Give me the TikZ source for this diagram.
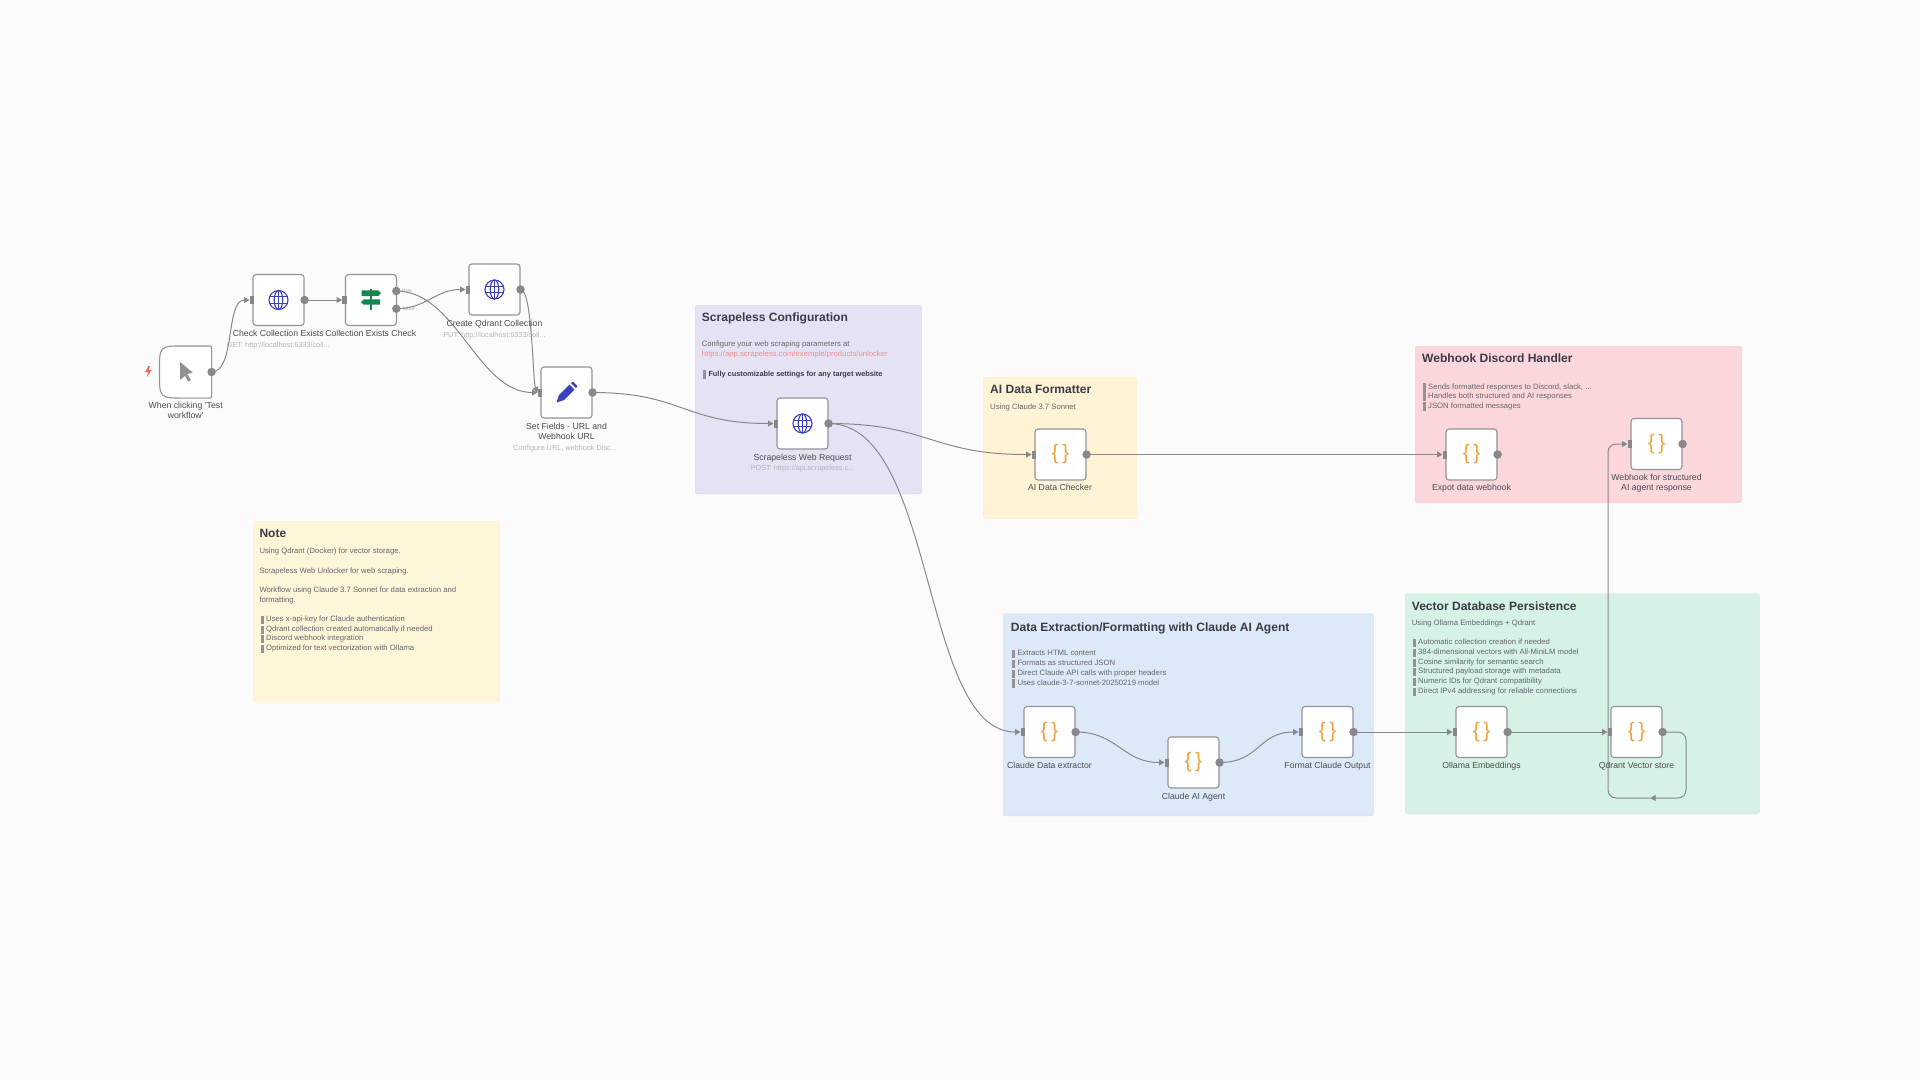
\documentclass[tikz,border=0pt]{standalone}
\usepackage{fontspec}
\setmainfont{Liberation Sans}
\usetikzlibrary{arrows.meta}

\definecolor{pagebg}{HTML}{FBFBFB}
\definecolor{wirecol}{HTML}{88888C}
\definecolor{edgecol}{HTML}{939397}
\definecolor{iconblue}{HTML}{3A3FC0}
\definecolor{signgreen}{HTML}{15854F}
\definecolor{bracecol}{HTML}{F2A33A}
\definecolor{boltcol}{HTML}{EE6A5C}
\definecolor{labelcol}{HTML}{4C4C52}
\definecolor{subcol}{HTML}{B5B5B8}
\definecolor{titlecol}{HTML}{3C3C46}
\definecolor{bodycol}{HTML}{66666C}
\definecolor{linkcol}{HTML}{EC8F8F}

\tikzset{
  flownode/.style={draw=edgecol,fill=white,line width=1.1pt,rounded corners=3pt,minimum width=51pt,minimum height=51pt,inner sep=0pt},
  groupbox/.style={rounded corners=2pt,anchor=north west,inner sep=0pt,line width=.5pt},
  outport/.style={circle,fill=wirecol,minimum size=8.5pt,inner sep=0pt},
  inport/.style={fill=wirecol,minimum width=4.5pt,minimum height=8pt,inner sep=0pt},
  wire/.style={draw=wirecol,line width=1pt,-{Triangle[length=5.5pt,width=6pt]}},
  nodelabel/.style={inner sep=0pt,text=labelcol,font=\fontsize{8.7}{10}\selectfont,text height=6.8pt,text depth=1.9pt},
  sublabel/.style={inner sep=0pt,text=subcol,font=\fontsize{7.3}{8}\selectfont,text height=5.4pt,text depth=1.5pt},
  grouptitle/.style={inner sep=0pt,anchor=west,text=titlecol,font=\bfseries\fontsize{12.05}{14}\selectfont,text height=9pt,text depth=2.6pt},
  bodytext/.style={inner sep=0pt,anchor=west,text=bodycol,font=\fontsize{7.7}{8}\selectfont,text height=5.4pt,text depth=1.5pt},
  bracetext/.style={inner sep=0pt,text=bracecol,font=\fontsize{21}{22}\selectfont},
  quotebar/.style={fill=edgecol}
}

%Globe icon
\newcommand{\globeicon}[1]{
  \begin{scope}[shift={(#1)},draw=iconblue,line width=1.1pt]
    \draw (0,0) circle (9.5pt);
    \draw (0,0) ellipse (4.3pt and 9.5pt);
    \draw (0,-9.5) -- (0,9.5) (-8.9,-3.3) -- (8.9,-3.3) (-8.9,3.3) -- (8.9,3.3);
  \end{scope}
}

\begin{document}
\begin{tikzpicture}[x=1pt,y=-1pt]

\fill[pagebg] (0,0) rectangle (1920,1080);
\useasboundingbox (0,0) rectangle (1920,1080);

%Group boxes
\node[groupbox,fill={rgb,255:red,255;green,245;blue,217},draw={rgb,255:red,252;green,240;blue,208},minimum width=246pt,minimum height=180.5pt] (noteGroup) at (253,521) {};
\node[groupbox,fill={rgb,255:red,229;green,227;blue,243},draw={rgb,255:red,218;green,216;blue,236},minimum width=226pt,minimum height=188.5pt] (scrapelessGroup) at (695,305) {};
\node[groupbox,fill={rgb,255:red,255;green,243;blue,214},draw={rgb,255:red,252;green,238;blue,205},minimum width=153.5pt,minimum height=141pt] (formatterGroup) at (983,377) {};
\node[groupbox,fill={rgb,255:red,251;green,215;blue,219},draw={rgb,255:red,246;green,207;blue,212},minimum width=326.5pt,minimum height=156.5pt] (webhookGroup) at (1415,346) {};
\node[groupbox,fill={rgb,255:red,220;green,233;blue,247},draw={rgb,255:red,210;green,225;blue,242},minimum width=370pt,minimum height=202pt] (extractGroup) at (1003,613.5) {};
\node[groupbox,fill={rgb,255:red,213;green,242;blue,228},draw={rgb,255:red,203;green,236;blue,220},minimum width=354pt,minimum height=220pt] (vectorGroup) at (1405,593.5) {};

%Group texts
\node[grouptitle] (noteTitle) at (259.3,534.6) {Note};
\node[bodytext] (noteA) at (259.3,551.8) {Using Qdrant (Docker) for vector storage.};
\node[bodytext] (noteB) at (259.3,571.2) {Scrapeless Web Unlocker for web scraping.};
\node[bodytext] (noteC) at (259.3,590.8) {Workflow using Claude 3.7 Sonnet for data extraction and};
\node[bodytext] (noteD) at (259.3,600.2) {formatting.};
\foreach \y/\t [count=\i] in {619.8/{Uses x-api-key for Claude authentication},629.8/{Qdrant collection created automatically if needed},638.8/{Discord webhook integration},648.8/{Optimized for text vectorization with Ollama}}{
  \fill[quotebar] (260.7,\y-4.3) rectangle (263.7,\y+4.3);
  \node[bodytext] (noteList\i) at (266,\y) {\t};
}

\node[grouptitle] (scrapelessTitle) at (701.7,318.6) {Scrapeless Configuration};
\node[bodytext] (scrapelessA) at (701.7,344.8) {Configure your web scraping parameters at};
\node[bodytext,text=linkcol] (scrapelessB) at (701.7,354.8) {https://app.scrapeless.com/exemple/products/unlocker};
\fill[quotebar] (703,370.3) rectangle (706,378.9);
\node[bodytext,text=titlecol,font=\bfseries\fontsize{7.35}{8}\selectfont] (scrapelessC) at (708.3,374.8) {Fully customizable settings for any target website};

\node[grouptitle] (formatterTitle) at (990,390.6) {AI Data Formatter};
\node[bodytext] (formatterA) at (990,407.8) {Using Claude 3.7 Sonnet};

\node[grouptitle] (webhookTitle) at (1422,359.6) {Webhook Discord Handler};
\foreach \y/\t [count=\i] in {387.2/{Sends formatted responses to Discord, slack, ...},396.2/{Handles both structured and AI responses},406.2/{JSON formatted messages}}{
  \fill[quotebar] (1423,\y-4.3) rectangle (1426,\y+4.3);
  \node[bodytext] (webhookList\i) at (1428,\y) {\t};
}

\node[grouptitle] (extractTitle) at (1010.7,628) {Data Extraction/Formatting with Claude AI Agent};
\foreach \y/\t [count=\i] in {653.8/{Extracts HTML content},663.8/{Formats as structured JSON},673.8/{Direct Claude API calls with proper headers},683.2/{Uses claude-3-7-sonnet-20250219 model}}{
  \fill[quotebar] (1011.7,\y-4.3) rectangle (1014.7,\y+4.3);
  \node[bodytext] (extractList\i) at (1017.3,\y) {\t};
}

\node[grouptitle] (vectorTitle) at (1411.7,607) {Vector Database Persistence};
\node[bodytext] (vectorA) at (1411.7,623.8) {Using Ollama Embeddings + Qdrant};
\foreach \y/\t [count=\i] in {642.8/{Automatic collection creation if needed},652.8/{384-dimensional vectors with All-MiniLM model},662.8/{Cosine similarity for semantic search},671.8/{Structured payload storage with metadata},681.8/{Numeric IDs for Qdrant compatibility},691.8/{Direct IPv4 addressing for reliable connections}}{
  \fill[quotebar] (1412.7,\y-4.3) rectangle (1415.7,\y+4.3);
  \node[bodytext] (vectorList\i) at (1418,\y) {\t};
}

%Workflow nodes
\node[flownode,draw=none,fill=none] (trigger) at (185.5,372) {};
\node[flownode] (check) at (278.5,300) {};
\node[flownode] (exists) at (371,300) {};
\node[flownode] (create) at (494.5,289.5) {};
\node[flownode] (fields) at (566.5,392.5) {};
\node[flownode] (scrapeless) at (802.5,423.5) {};
\node[flownode] (checker) at (1060.5,454.5) {};
\node[flownode] (expot) at (1471.5,454.5) {};
\node[flownode] (structured) at (1656.5,444) {};
\node[flownode] (extractor) at (1049.5,732) {};
\node[flownode] (agent) at (1193.5,762.5) {};
\node[flownode] (output) at (1327.5,732) {};
\node[flownode] (ollama) at (1481.5,732) {};
\node[flownode] (qdrant) at (1636.5,732) {};

%Trigger outline
\filldraw[draw=edgecol,fill=white,line width=1.1pt] ([xshift=-3pt]trigger.south east) .. controls (trigger.south east) .. ([yshift=3pt]trigger.south east) -- ([yshift=-3pt]trigger.north east) .. controls (trigger.north east) .. ([xshift=-3pt]trigger.north east) -- ([xshift=25pt]trigger.north west) .. controls (trigger.north west) .. ([yshift=-25pt]trigger.north west) -- ([yshift=25pt]trigger.south west) .. controls (trigger.south west) .. ([xshift=25pt]trigger.south west) -- cycle;

%Ports
\foreach \n in {trigger,check,create,fields,scrapeless,checker,expot,structured,extractor,agent,output,ollama,qdrant}
  \node[outport] (\n-out) at (\n.east) {};
\foreach \n in {check,exists,create,fields,scrapeless,checker,expot,structured,extractor,agent,output,ollama,qdrant}
  \node[inport] (\n-in) at ([xshift=-.5pt]\n.west) {};
\node[outport] (exists-true) at (396.3,291) {};
\node[outport] (exists-false) at (396.3,308.7) {};
\node[inner sep=0pt,text=subcol,font=\fontsize{5.6}{6}\selectfont] (trueLabel) at (407,290.3) {true};
\node[inner sep=0pt,text=subcol,font=\fontsize{5.6}{6}\selectfont] (falseLabel) at (408.7,308.7) {false};

%Connectors
\draw[wire] (trigger-out.center) .. controls +(24,0) and +(-24,0) .. (check-in.west);
\draw[wire] (check-out.center) -- (exists-in.west);
\draw[wire] (exists-true.center) .. controls +(60,0) and +(-60,0) .. (fields-in.west);
\draw[wire] (exists-false.center) .. controls +(30,0) and +(-30,0) .. (create-in.west);
\draw[wire] (create-out.center) .. controls +(12,0) and +(-5,-12) .. (fields-in.west);
\draw[wire] (fields-out.center) .. controls +(90,0) and +(-90,0) .. (scrapeless-in.west);
\draw[wire] (scrapeless-out.center) .. controls +(100,0) and +(-100,0) .. (checker-in.west);
\draw[wire] (scrapeless-out.center) .. controls +(108,0) and +(-100,0) .. (extractor-in.west);
\draw[wire] (checker-out.center) -- (expot-in.west);
\draw[wire] (extractor-out.center) .. controls +(42,0) and +(-42,0) .. (agent-in.west);
\draw[wire] (agent-out.center) .. controls +(40,0) and +(-40,0) .. (output-in.west);
\draw[wire] (output-out.center) -- (ollama-in.west);
\draw[wire] (ollama-out.center) -- (qdrant-in.west);
\coordinate (loopTurn) at (1650,798);
\draw[wire,rounded corners=8pt] (qdrant-out.center) -- (1686,732) -- (1686,798) -- (loopTurn);
\draw[wire,rounded corners=8pt] (loopTurn) -- (1608,798) -- (1608,444) -- (structured-in.west);

%Icons
\foreach \n in {check,create,scrapeless}
  \globeicon{\n};
\foreach \n in {checker,expot,structured,extractor,agent,output,ollama,qdrant}
  \node[bracetext] (\n-icon) at (\n) {\{\,\}};

\begin{scope}[shift={(trigger)}]
  \fill[edgecol] (-5.5,-10.3) -- (-5.5,8) -- (-.5,4) -- (2.8,9.7) -- (5.5,8) -- (1.8,2) -- (7.2,.7) -- cycle;
\end{scope}
\fill[boltcol] (148.5,366) -- (145,372) -- (148,372) -- (147,377) -- (151.7,370) -- (148.7,370) -- (150,366) -- cycle;

\begin{scope}[shift={(exists)},signgreen]
  \fill (-1.2,-11.5) rectangle (1.2,9.5);
  \fill (-9.3,-9.7) -- (7.3,-9.7) -- (10,-6.9) -- (7.3,-4) -- (-9.3,-4) -- cycle;
  \fill (-7.3,-.7) -- (9,-.7) -- (9,4.7) -- (-7.3,4.7) -- (-10,2) -- cycle;
\end{scope}

\begin{scope}[shift={(fields)},iconblue]
  \fill (-10,10) -- (-7.5,2.5) -- (3,-8) -- (8,-3) -- (-2.5,7.5) -- cycle;
  \fill (4.5,-9.5) -- (6.5,-11) -- (11,-6.5) -- (9.5,-4.5) -- cycle;
\end{scope}

%Node labels
\node[nodelabel] (triggerLabelA) at (185.7,406.2) {When clicking 'Test};
\node[nodelabel] (triggerLabelB) at (185.7,416.2) {workflow'};
\node[nodelabel] (checkLabel) at (278.3,334.2) {Check Collection Exists};
\node[sublabel] (checkSub) at (278.3,345.7) {GET: http://localhost:6333/coll...};
\node[nodelabel] (existsLabel) at (370.7,334.2) {Collection Exists Check};
\node[nodelabel] (createLabel) at (494.5,324.2) {Create Qdrant Collection};
\node[sublabel] (createSub) at (494.5,335.7) {PUT: http://localhost:6333/coll...};
\node[nodelabel] (fieldsLabelA) at (566.5,427.2) {Set Fields - URL and};
\node[nodelabel] (fieldsLabelB) at (566.5,437.2) {Webhook URL};
\node[sublabel] (fieldsSub) at (565,448.3) {Configure URL, webhook Disc...};
\node[nodelabel] (scrapelessLabel) at (802.5,458.2) {Scrapeless Web Request};
\node[sublabel] (scrapelessSub) at (802.5,468.7) {POST: https://api.scrapeless.c...};
\node[nodelabel] (checkerLabel) at (1060,488.2) {AI Data Checker};
\node[nodelabel] (expotLabel) at (1471.5,488.2) {Expot data webhook};
\node[nodelabel] (structuredLabelA) at (1656.5,478.2) {Webhook for structured};
\node[nodelabel] (structuredLabelB) at (1656.5,488.2) {AI agent response};
\node[nodelabel] (extractorLabel) at (1049.5,766.2) {Claude Data extractor};
\node[nodelabel] (agentLabel) at (1193.5,797.2) {Claude AI Agent};
\node[nodelabel] (outputLabel) at (1327.5,766.2) {Format Claude Output};
\node[nodelabel] (ollamaLabel) at (1481.5,766.2) {Ollama Embeddings};
\node[nodelabel] (qdrantLabel) at (1636.5,766.2) {Qdrant Vector store};

\end{tikzpicture}
\end{document}
